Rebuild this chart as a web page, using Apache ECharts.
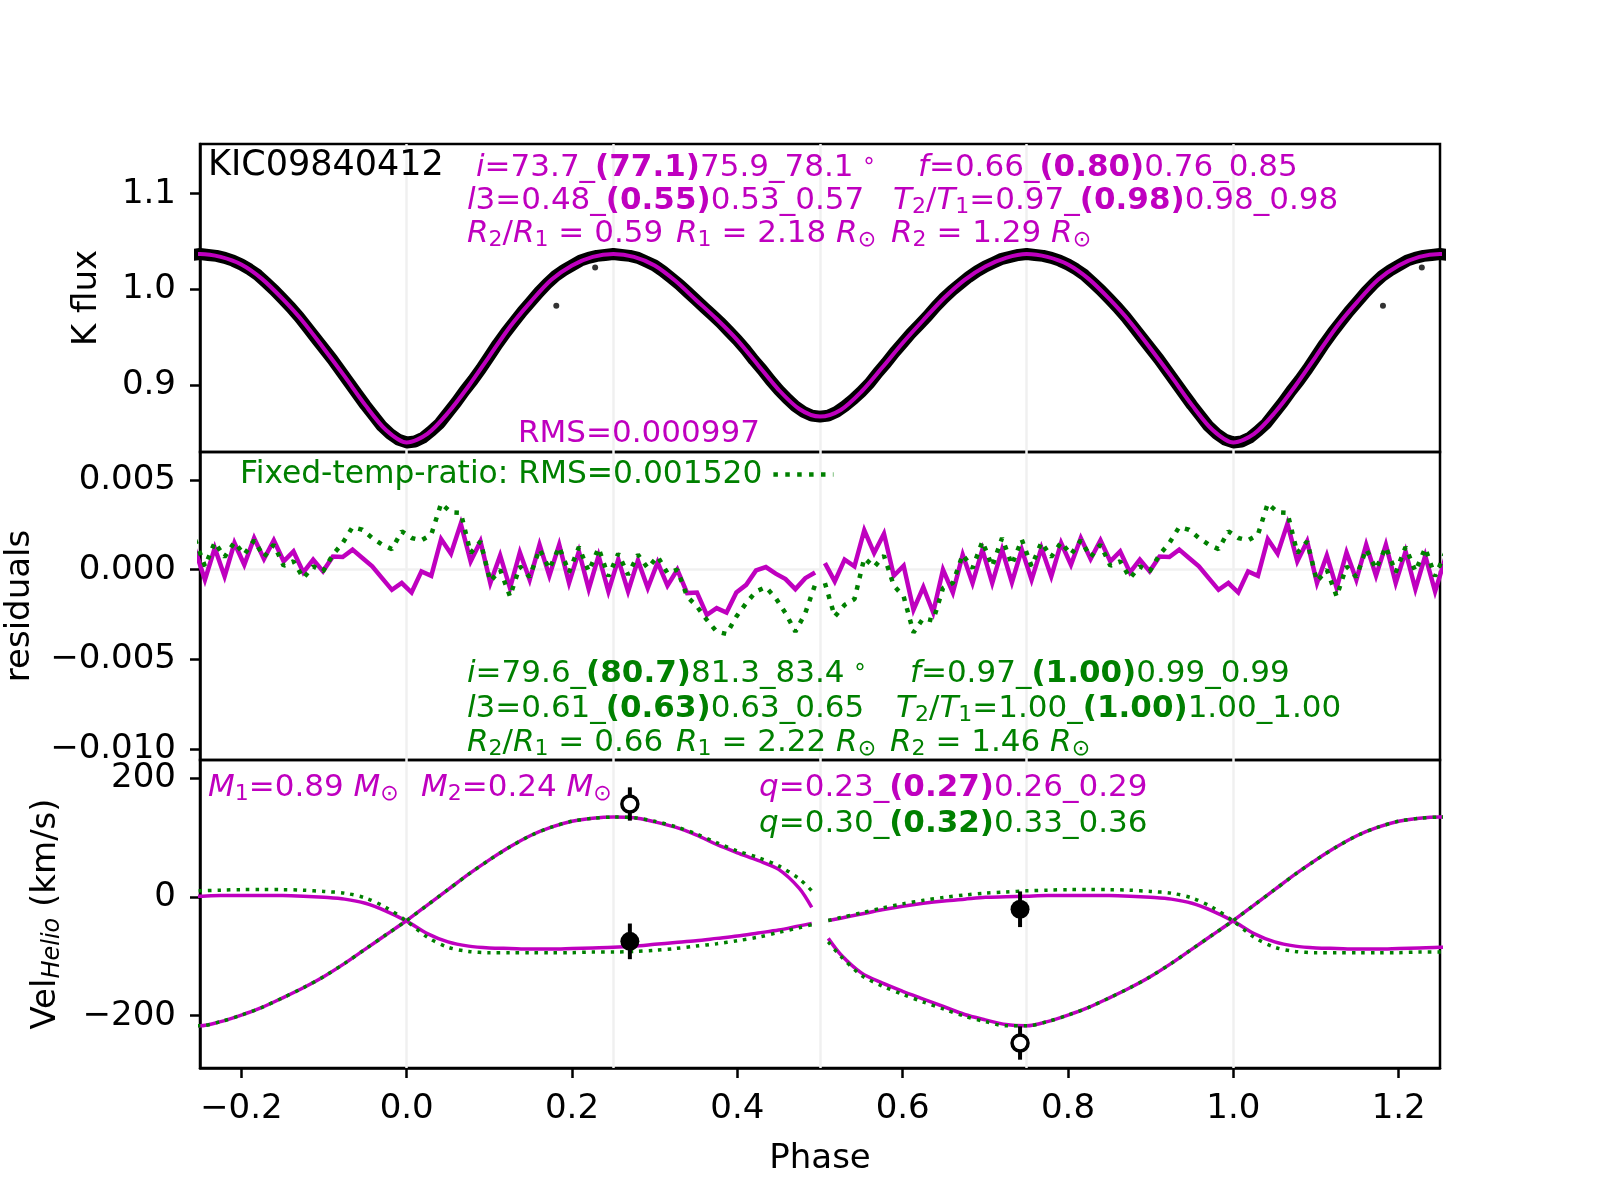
<!DOCTYPE html>
<html>
<head>
<meta charset="utf-8">
<title>KIC09840412</title>
<script src="https://cdn.jsdelivr.net/npm/echarts@6.0.0/dist/echarts.min.js"></script>
<style>
  html, body { margin: 0; padding: 0; background: #fff; }
  #chart { width: 1600px; height: 1200px; }
</style>
</head>
<body>
<div id="chart"></div>
<script>
// light curve, one cycle (copies at phase +-1 are drawn too)
var lcPhase = [-0.25, -0.225, -0.2, -0.175, -0.15, -0.125, -0.1, -0.075, -0.05, -0.025,
  0, 0.025, 0.05, 0.075, 0.1, 0.125, 0.15, 0.175, 0.2, 0.225,
  0.25, 0.275, 0.3, 0.325, 0.35, 0.375, 0.4, 0.425, 0.45, 0.475,
  0.5, 0.525, 0.55, 0.575, 0.6, 0.625, 0.65, 0.675, 0.7, 0.725];
var lcModel = [1.037, 1.034, 1.026, 1.011, 0.990, 0.966, 0.938, 0.909, 0.879, 0.853,
  0.840, 0.849, 0.871, 0.899, 0.930, 0.961, 0.987, 1.010, 1.025, 1.034,
  1.037, 1.034, 1.025, 1.009, 0.989, 0.969, 0.947, 0.921, 0.895, 0.875,
  0.867, 0.874, 0.893, 0.918, 0.944, 0.968, 0.991, 1.010, 1.024, 1.033];
// observed K flux, phase -0.25 .. 0.74 in steps of 0.01
var obsFlux = [1.037, 1.036, 1.035, 1.033, 1.030, 1.026, 1.021, 1.015, 1.007, 0.999,
  0.990, 0.981, 0.971, 0.960, 0.949, 0.938, 0.927, 0.915, 0.903, 0.891,
  0.879, 0.868, 0.857, 0.849, 0.843, 0.840, 0.841, 0.845, 0.852, 0.860,
  0.871, 0.882, 0.894, 0.905, 0.917, 0.930, 0.943, 0.955, 0.966, 0.977,
  0.987, 0.997, 1.006, 1.014, 1.020, 1.025, 1.030, 1.033, 1.035, 1.036,
  1.037, 1.036, 1.035, 1.033, 1.029, 1.025, 1.019, 1.012, 1.005, 0.997,
  0.989, 0.981, 0.973, 0.965, 0.956, 0.947, 0.937, 0.926, 0.916, 0.905,
  0.895, 0.886, 0.878, 0.872, 0.868, 0.867, 0.868, 0.872, 0.878, 0.885,
  0.893, 0.902, 0.913, 0.923, 0.934, 0.944, 0.954, 0.963, 0.972, 0.982,
  0.991, 0.999, 1.006, 1.013, 1.019, 1.024, 1.028, 1.032, 1.034, 1.036];
var outPhase = [0.181, 0.228];
var outFlux = [0.983, 1.023];

// residuals in 84 phase bins
var resMag = [-0.00056, 0.00121, -0.00037, 0.00149, 0.00028, 0.00177, 0.00060, 0.00164, 0.00047, 0.00102,
  -0.00015, 0.00056, -0.00009, 0.00074, 0.00071, 0.00112, 0.00065, 0.00019, -0.00047, -0.00112,
  -0.00074, -0.00127, -0.00009, -0.00034, 0.00171, 0.00089, 0.00257, 0.00047, 0.00158, -0.00074,
  0.00080, -0.00102, 0.00097, -0.00056, 0.00140, -0.00034, 0.00140, -0.00074, 0.00102, -0.00108,
  0.00078, -0.00121, 0.00058, -0.00121, 0.00052, -0.00102, 0.00041, -0.00089, 0.00000, -0.00130,
  -0.00127, -0.00251, -0.00214, -0.00238, -0.00127, -0.00084, -0.00004, 0.00015, -0.00022, -0.00052,
  -0.00108, -0.00047, -0.00015, 0.00037, -0.00065, 0.00056, 0.00019, 0.00220, 0.00093, 0.00201,
  -0.00034, 0.00022, -0.00223, -0.00097, -0.00238, 0.00000, -0.00127, 0.00084, -0.00074, 0.00112,
  -0.00074, 0.00112, -0.00071, 0.00112];
var resGrn = [0.00019, 0.00153, 0.00071, 0.00153, 0.00084, 0.00164, 0.00071, 0.00140, 0.00022, 0.00047,
  -0.00047, 0.00019, -0.00009, 0.00084, 0.00149, 0.00238, 0.00223, 0.00177, 0.00140, 0.00115,
  0.00214, 0.00177, 0.00164, 0.00196, 0.00369, 0.00320, 0.00317, 0.00093, 0.00158, -0.00065,
  0.00000, -0.00149, 0.00019, -0.00041, 0.00115, 0.00004, 0.00127, -0.00015, 0.00127, -0.00009,
  0.00121, -0.00037, 0.00090, -0.00028, 0.00084, 0.00009, 0.00074, -0.00019, 0.00000, -0.00149,
  -0.00205, -0.00279, -0.00345, -0.00358, -0.00261, -0.00186, -0.00121, -0.00097, -0.00158, -0.00242,
  -0.00345, -0.00242, -0.00084, -0.00074, -0.00261, -0.00196, -0.00164, 0.00065, 0.00015, 0.00078,
  -0.00089, -0.00149, -0.00350, -0.00270, -0.00283, -0.00102, -0.00074, 0.00084, 0.00009, 0.00158,
  0.00019, 0.00177, 0.00028, 0.00168];

// radial velocity models (km/s), one cycle, split at phase 0.5
var rvPhase = [-0.25, -0.225, -0.2, -0.175, -0.15, -0.125, -0.1, -0.075, -0.05, -0.025,
  0, 0.025, 0.05, 0.075, 0.1, 0.125, 0.15, 0.175, 0.2, 0.225,
  0.25, 0.275, 0.3, 0.325, 0.35, 0.375, 0.4, 0.425, 0.45, 0.475,
  0.49, 0.51, 0.525, 0.55, 0.575, 0.6, 0.625, 0.65, 0.675, 0.7, 0.725];
var rv2Mag = [-217, -210, -199, -186, -170, -153, -134, -112, -88, -64,
  -40, -14, 12, 38, 62, 84, 103, 117, 127, 132,
  134, 133, 126, 117, 104, 88, 74, 61, 46, 14,
  -18, -70, -97, -128, -145, -159, -172, -185, -198, -207, -215];
var rv1Mag = [1, 2, 2, 2, 2, 1, -1, -4, -11, -24,
  -41, -62, -76, -83, -86, -87, -88, -88, -87, -86,
  -85, -83, -80, -77, -74, -70, -66, -61, -56, -49,
  -45, -40, -36, -29, -22, -16, -11, -7, -4, -1, 0];
var rv2Grn = [-217, -210, -199, -186, -170, -153, -134, -112, -88, -64,
  -40, -14, 12, 38, 62, 84, 103, 117, 127, 132,
  134, 133, 127, 118, 106, 91, 77, 66, 52, 30,
  10, -76, -100, -132, -150, -164, -177, -189, -201, -210, -217];
var rv1Grn = [10, 11, 12, 12, 12, 11, 9, 6, -2, -18,
  -41, -68, -85, -92, -94, -94, -94, -94, -94, -93,
  -93, -92, -90, -87, -83, -79, -74, -68, -60, -52,
  -47, -40, -35, -27, -19, -12, -6, -1, 3, 6, 8];
var obsRvPhase = [0.270, 0.742];
var obsRv1 = [-75, -21];
var obsRv1Err = [30, 30];
var obsRv2 = [156, -246];
var obsRv2Err = [28, 28];

var xTicks = [-0.2, 0, 0.2, 0.4, 0.6, 0.8, 1.0, 1.2];
var fluxTicks = [0.9, 1.0, 1.1];
var resTicks = [-0.01, -0.005, 0, 0.005];
var velTicks = [-200, 0, 200];
var guidePhase = [0, 0.25, 0.5, 0.75, 1.0];

var MAG = '#bf00bf', GRN = '#008000', FONT = 'DejaVu Sans', GUIDE = '#f0f0f0';

var obsPhase = obsFlux.map(function (v, k) { return Math.round((-0.25 + k * 0.01) * 1000) / 1000; });
var resPhase = resMag.map(function (v, k) { return (k - 20.5) / 84; });

// one cycle plus its copies at -1 and +1; optional break of the line at half phases
var fold = function (ph, val, breakAtHalf) {
    var pts = [];
    [-1, 0, 1].forEach(function (s) {
        for (var i = 0; i < ph.length; i++) {
            pts.push([ph[i] + s, val[i]]);
        }
    });
    pts.sort(function (a, b) { return a[0] - b[0]; });
    var out = [];
    for (var j = 0; j < pts.length; j++) {
        if (breakAtHalf && j > 0 && Math.floor(pts[j][0] + 0.5) !== Math.floor(pts[j - 1][0] + 0.5)) {
            out.push([(pts[j][0] + pts[j - 1][0]) / 2, null]);
        }
        out.push(pts[j]);
    }
    return out;
};

var minus = function (s) { return s.replace('-', '\u2212'); };

var xAx = function (i) {
    var last = i === 2;
    return {
        gridIndex: i, type: 'value', min: -0.25, max: 1.25, position: 'bottom',
        axisLine: {show: last, onZero: false, lineStyle: {color: '#000', width: 2.5}},
        axisTick: {show: last, inside: false, customValues: xTicks, length: 10, lineStyle: {color: '#000', width: 2.5}},
        axisLabel: {show: last, customValues: xTicks, margin: 24, color: '#000', fontSize: 34, fontFamily: FONT,
            formatter: function (v) { return minus(v.toFixed(1)); }},
        splitLine: {show: false}
    };
};
var yAx = function (i, min, max, ticks, dec) {
    return {
        gridIndex: i, type: 'value', min: min, max: max, position: 'left',
        axisLine: {show: true, onZero: false, lineStyle: {color: '#000', width: 2.5}},
        axisTick: {show: true, inside: false, customValues: ticks, length: 10, lineStyle: {color: '#000', width: 2.5}},
        axisLabel: {customValues: ticks, margin: 24, color: '#000', fontSize: 34, fontFamily: FONT,
            padding: [7, 0, 0, 0],
            formatter: function (v) { return minus(v.toFixed(dec)); }},
        splitLine: {show: false}
    };
};

// faint guide lines at quarter phases (and zero residual), kept under the data
var guides = function (i, withZero) {
    var lines = guidePhase.map(function (p) { return {xAxis: p}; });
    if (withZero) {
        lines.push({yAxis: 0});
    }
    return {
        name: 'guides' + i, type: 'line', xAxisIndex: i, yAxisIndex: i, data: [], silent: true, z: 1,
        markLine: {z: 1, silent: true, symbol: 'none', animation: false, label: {show: false},
            lineStyle: {color: GUIDE, width: 2.5, type: 'solid'}, data: lines}
    };
};

var rich = function (size) {
    return {
        it: {fontSize: size, fontFamily: FONT, fontStyle: 'italic'},
        b: {fontSize: size, fontFamily: FONT, fontWeight: 'bold'},
        sub: {fontSize: Math.round(size * 0.7), fontFamily: FONT, padding: [Math.round(size * 0.42), 0, 0, 0]},
        subi: {fontSize: Math.round(size * 0.7), fontFamily: FONT, fontStyle: 'italic', padding: [Math.round(size * 0.42), 0, 0, 0]},
        deg: {fontSize: Math.round(size * 0.75), fontFamily: FONT}
    };
};
var txt = function (x, y, s, color, size, rot) {
    return {
        type: 'text', x: x, y: y, z: 100, rotation: rot || 0, silent: true,
        style: {text: s, fill: color, fontSize: size, fontFamily: FONT, align: rot ? 'center' : 'left',
            verticalAlign: 'middle', rich: rich(size)}
    };
};

var errData = [];
obsRvPhase.forEach(function (p, i) {
    errData.push([p, obsRv1[i], obsRv1Err[i]]);
    errData.push([p, obsRv2[i], obsRv2Err[i]]);
});

var rvLine = function (name, vals, color, dotted) {
    return {
        name: name, type: 'line', xAxisIndex: 2, yAxisIndex: 2, symbol: 'none', smooth: 0.3, silent: true,
        data: fold(rvPhase, vals, true), z: dotted ? 4 : 3,
        lineStyle: {color: color, width: 3.5, type: dotted ? [3.5, 6] : 'solid', cap: 'butt'}
    };
};

var chart = echarts.init(document.getElementById('chart'));
chart.setOption({
    animation: false,
    backgroundColor: '#fff',
    textStyle: {fontFamily: FONT},
    grid: [144, 452, 760].map(function (t) {
        return {left: 200, width: 1240, top: t, height: 308, show: true,
            borderColor: '#000', borderWidth: 2.5, backgroundColor: 'transparent'};
    }),
    xAxis: [xAx(0), xAx(1), xAx(2)],
    yAxis: [
        yAx(0, 0.83, 1.152, fluxTicks, 1),
        yAx(1, -0.0106, 0.00656, resTicks, 3),
        yAx(2, -288, 230, velTicks, 0)
    ],
    legend: {
        data: ['Fixed-temp-ratio: RMS=0.001520'],
        left: 240, top: 459, padding: 0, align: 'right', selectedMode: false, z: 10,
        itemWidth: 60, itemHeight: 20,
        textStyle: {color: GRN, fontSize: 31.3, fontFamily: FONT, padding: [0, 6, 0, 0]},
        itemStyle: {opacity: 0},
        lineStyle: {color: GRN, width: 4.5, type: [4.5, 7.4], cap: 'butt', opacity: 1}
    },
    series: [
        guides(0, false),
        guides(1, true),
        guides(2, false),
        {
            name: 'observed', type: 'line', xAxisIndex: 0, yAxisIndex: 0, symbol: 'none', silent: true,
            data: fold(obsPhase, obsFlux, false), z: 2,
            lineStyle: {color: '#000', width: 12, join: 'round'}
        },
        {
            name: 'outliers', type: 'scatter', xAxisIndex: 0, yAxisIndex: 0, silent: true,
            data: fold(outPhase, outFlux, false), symbolSize: 6, z: 2,
            itemStyle: {color: '#000'}
        },
        {
            name: 'model', type: 'line', xAxisIndex: 0, yAxisIndex: 0, symbol: 'none', smooth: 0.3, silent: true,
            data: fold(lcPhase, lcModel, false), z: 3,
            lineStyle: {color: MAG, width: 4}
        },
        {
            name: 'residual', type: 'line', xAxisIndex: 1, yAxisIndex: 1, symbol: 'none', silent: true,
            data: fold(resPhase, resMag, true), z: 3,
            lineStyle: {color: MAG, width: 4.5, join: 'miter'}
        },
        {
            name: 'Fixed-temp-ratio: RMS=0.001520', type: 'line', xAxisIndex: 1, yAxisIndex: 1, symbol: 'none', silent: true,
            data: fold(resPhase, resGrn, true), z: 4,
            itemStyle: {color: GRN},
            lineStyle: {color: GRN, width: 4.5, type: [4.5, 7.4], cap: 'butt'}
        },
        rvLine('rv2', rv2Mag, MAG, false),
        rvLine('rv1', rv1Mag, MAG, false),
        rvLine('rv2 fixed', rv2Grn, GRN, true),
        rvLine('rv1 fixed', rv1Grn, GRN, true),
        {
            name: 'errors', type: 'custom', xAxisIndex: 2, yAxisIndex: 2, silent: true, z: 5,
            encode: {x: 0, y: 1}, data: errData,
            renderItem: function (params, api) {
                var lo = api.coord([api.value(0), api.value(1) - api.value(2)]);
                var hi = api.coord([api.value(0), api.value(1) + api.value(2)]);
                return {type: 'line', shape: {x1: lo[0], y1: lo[1], x2: hi[0], y2: hi[1]},
                    style: {stroke: '#000', lineWidth: 4}};
            }
        },
        {
            name: 'primary', type: 'scatter', xAxisIndex: 2, yAxisIndex: 2, silent: true, z: 6,
            data: obsRvPhase.map(function (p, i) { return [p, obsRv1[i]]; }),
            symbolSize: 19, itemStyle: {color: '#000', opacity: 1}
        },
        {
            name: 'secondary', type: 'scatter', xAxisIndex: 2, yAxisIndex: 2, silent: true, z: 6,
            data: obsRvPhase.map(function (p, i) { return [p, obsRv2[i]]; }),
            symbolSize: 16, itemStyle: {color: '#fff', borderColor: '#000', borderWidth: 3.5, opacity: 1}
        }
    ],
    graphic: [
        txt(208, 166, 'KIC09840412', '#000', 35),
        txt(476, 168, '{it|i}=73.7_{b|(77.1)}75.9_78.1 {deg|°}', MAG, 31),
        txt(918, 168, '{it|f}=0.66_{b|(0.80)}0.76_0.85', MAG, 31),
        txt(467, 201, '{it|l}3=0.48_{b|(0.55)}0.53_0.57', MAG, 31),
        txt(893, 201, '{it|T}{sub|2}/{it|T}{sub|1}=0.97_{b|(0.98)}0.98_0.98', MAG, 31),
        txt(467, 234, '{it|R}{sub|2}/{it|R}{sub|1} = 0.59', MAG, 31),
        txt(676, 234, '{it|R}{sub|1} = 2.18 {it|R}{sub|⊙}', MAG, 31),
        txt(891, 234, '{it|R}{sub|2} = 1.29 {it|R}{sub|⊙}', MAG, 31),
        txt(518, 434, 'RMS=0.000997', MAG, 31),
        txt(467, 674, '{it|i}=79.6_{b|(80.7)}81.3_83.4 {deg|°}', GRN, 31),
        txt(910, 674, '{it|f}=0.97_{b|(1.00)}0.99_0.99', GRN, 31),
        txt(467, 709, '{it|l}3=0.61_{b|(0.63)}0.63_0.65', GRN, 31),
        txt(896, 709, '{it|T}{sub|2}/{it|T}{sub|1}=1.00_{b|(1.00)}1.00_1.00', GRN, 31),
        txt(467, 743, '{it|R}{sub|2}/{it|R}{sub|1} = 0.66', GRN, 31),
        txt(676, 743, '{it|R}{sub|1} = 2.22 {it|R}{sub|⊙}', GRN, 31),
        txt(890, 743, '{it|R}{sub|2} = 1.46 {it|R}{sub|⊙}', GRN, 31),
        txt(208, 788, '{it|M}{sub|1}=0.89 {it|M}{sub|⊙}', MAG, 31),
        txt(421, 788, '{it|M}{sub|2}=0.24 {it|M}{sub|⊙}', MAG, 31),
        txt(759, 788, '{it|q}=0.23_{b|(0.27)}0.26_0.29', MAG, 31),
        txt(759, 824, '{it|q}=0.30_{b|(0.32)}0.33_0.36', GRN, 31),
        txt(87, 298, 'K flux', '#000', 34, Math.PI / 2),
        txt(20, 606, 'residuals', '#000', 34, Math.PI / 2),
        txt(46, 914, 'Vel{subi|Helio} (km/s)', '#000', 34, Math.PI / 2),
        {type: 'text', x: 820, y: 1159, z: 100, silent: true,
            style: {text: 'Phase', fill: '#000', fontSize: 34, fontFamily: FONT, align: 'center', verticalAlign: 'middle'}}
    ]
});
</script>
</body>
</html>
